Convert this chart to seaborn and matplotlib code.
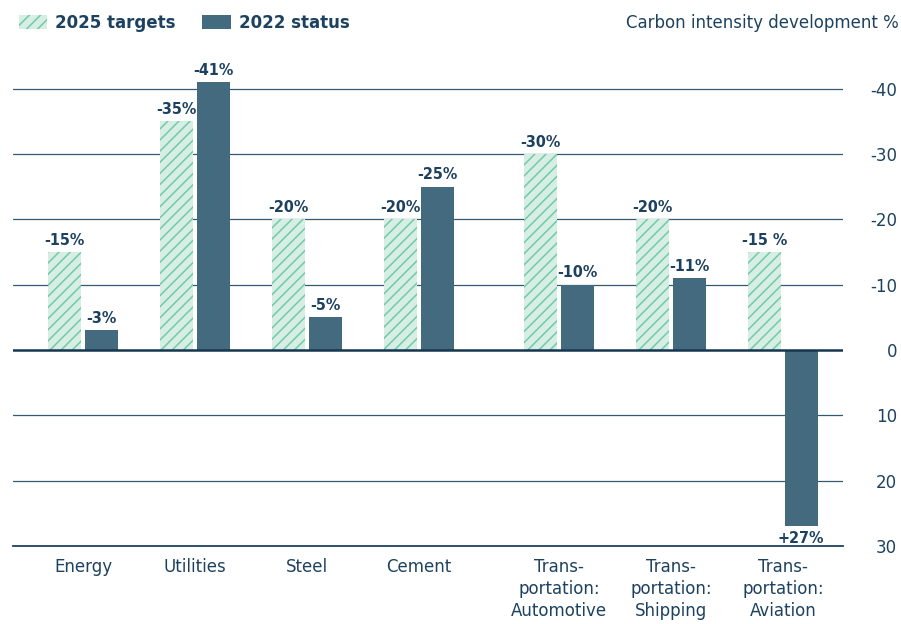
import numpy as np
import pandas as pd
import matplotlib
matplotlib.use("Agg")
import matplotlib.pyplot as plt
from matplotlib.patches import Patch
from matplotlib.ticker import FixedLocator, FuncFormatter
import seaborn as sns

# Data (carbon intensity development, %; negative = reduction)
sectors = ["Energy", "Utilities", "Steel", "Cement",
           "Trans-\nportation:\nAutomotive", "Trans-\nportation:\nShipping",
           "Trans-\nportation:\nAviation"]
targets_2025 = [-15, -35, -20, -20, -30, -20, -15]
status_2022 = [-3, -41, -5, -25, -10, -11, 27]
target_labels = ["-15%", "-35%", "-20%", "-20%", "-30%", "-20%", "-15 %"]
status_labels = ["-3%", "-41%", "-5%", "-25%", "-10%", "-11%", "+27%"]
yticks = [-40, -30, -20, -10, 0, 10, 20, 30]

# group positions: a little extra room before the transportation groups
xpos = [i + (0.25 if i >= 4 else 0) for i in range(len(sectors))]

df = pd.DataFrame({
    "x": xpos * 2,
    "value": targets_2025 + status_2022,
    "series": ["2025 targets"] * len(sectors) + ["2022 status"] * len(sectors),
})

navy = "#1d4260"
grid_col = "#34586f"
mint_fill = "#d6eee4"
mint_line = "#72caa8"
slate = "#446a80"

sns.set_style("white")
plt.rcParams["font.family"] = ["DejaVu Sans"]
plt.rcParams["axes.unicode_minus"] = False
plt.rcParams["hatch.linewidth"] = 1.1

fig = plt.figure(figsize=(9.01, 6.24), dpi=100)
ax = fig.add_axes([13 / 901, 0.125, (843 - 13) / 901, 0.796])

sns.barplot(data=df, x="x", y="value", hue="series", native_scale=True,
            palette={"2025 targets": mint_fill, "2022 status": slate},
            saturation=1, width=0.65, gap=0.1, dodge=True, legend=False,
            ax=ax, zorder=3)

# hatch the target bars
for p in ax.containers[0]:
    p.set_hatch("///")
    p.set_edgecolor(mint_line)
    p.set_linewidth(0)
for p in ax.containers[1]:
    p.set_linewidth(0)

ax.set_xlim(-0.625, 6.786)
ax.set_ylim(30, -46)

# value labels
lab_font = dict(family="DejaVu Sans", fontstretch="condensed",
                fontweight="bold", fontsize=11.5, color=navy)
for cont, labels in zip(ax.containers, [target_labels, status_labels]):
    for p, txt in zip(cont, labels):
        xc = p.get_x() + p.get_width() / 2
        val = p.get_y() + p.get_height()
        if val <= 0:
            ax.annotate(txt, (xc, val), xytext=(0, 3), textcoords="offset points",
                        ha="center", va="bottom", **lab_font)
        else:
            ax.annotate(txt, (xc, val), xytext=(0, -3), textcoords="offset points",
                        ha="center", va="top", **lab_font)

# grid lines and axes
for s in ["top", "left", "right"]:
    ax.spines[s].set_visible(False)
ax.spines["bottom"].set_color(navy)
ax.spines["bottom"].set_linewidth(1.3)
for v in yticks[:-1]:
    if v == 0:
        ax.axhline(v, color="#163650", lw=1.8, zorder=4)
    else:
        ax.axhline(v, color=grid_col, lw=0.9, zorder=1)

ax.yaxis.tick_right()
ax.yaxis.set_major_locator(FixedLocator(yticks))
ax.yaxis.set_major_formatter(FuncFormatter(lambda v, _: f"{int(v)}"))
ax.tick_params(axis="y", length=0, pad=39, labelsize=12, labelcolor=navy)
for t in ax.get_yticklabels():
    t.set_ha("right")

ax.set_xticks(xpos)
ax.set_xticklabels(sectors, linespacing=1.25)
ax.tick_params(axis="x", length=0, pad=9, labelsize=12, labelcolor=navy)
ax.set_xlabel("")
ax.set_ylabel("")

# legend and unit title
handles = [Patch(facecolor=mint_fill, edgecolor=mint_line, hatch="///", lw=0, label="2025 targets"),
           Patch(facecolor=slate, lw=0, label="2022 status")]
fig.legend(handles=handles, loc="center left", bbox_to_anchor=(0.004, 1 - 23 / 624),
           ncol=2, frameon=False, handlelength=1.7, handleheight=0.9,
           handletextpad=0.5, columnspacing=1.6,
           prop=dict(size=12, weight="bold"), labelcolor=navy)
fig.text(0.997, 1 - 23 / 624, "Carbon intensity development %", ha="right",
         va="center", fontsize=12, color=navy)

fig.savefig("out.png", dpi=100)
